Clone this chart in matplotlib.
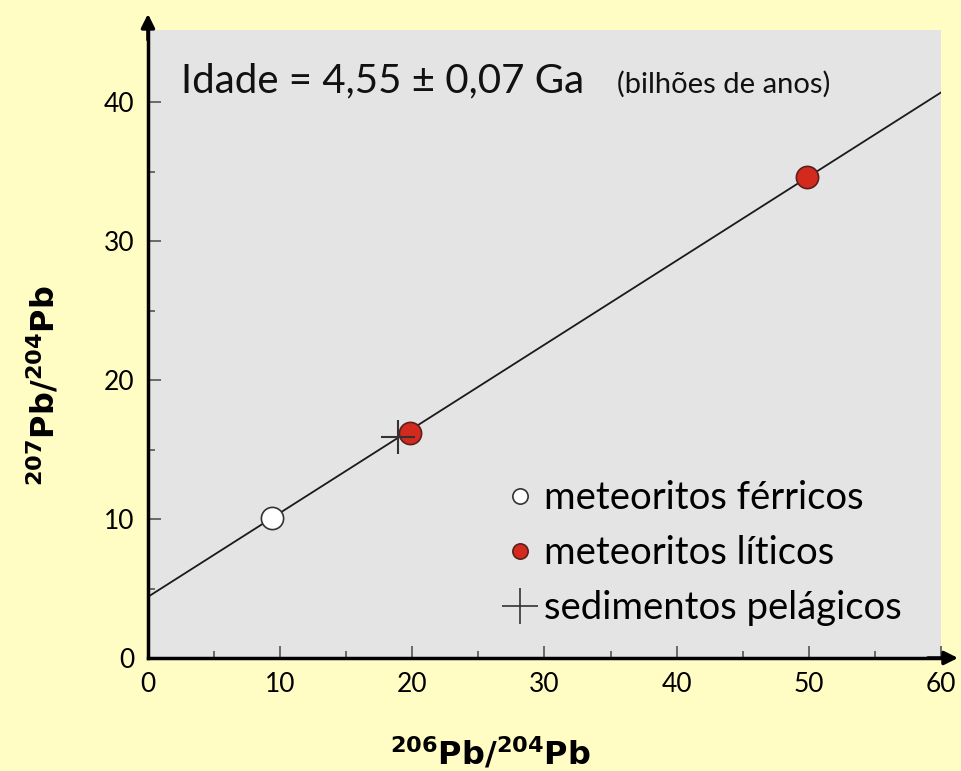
import numpy as np
import matplotlib.pyplot as plt

# isochron line and data
line_x = [0, 60]
line_y = [4.4, 40.7]
ferricos_x = [9.4]
ferricos_y = [10.1]
liticos_x = [19.8, 49.9]
liticos_y = [16.2, 34.6]
sedim_x = [18.9]
sedim_y = [15.9]
xticks = [0, 10, 20, 30, 40, 50, 60]
yticks = [0, 10, 20, 30, 40]

plt.rcParams['font.family'] = ['Lato', 'DejaVu Sans']

fig = plt.figure(figsize=(9.62, 7.71), dpi=100, facecolor='#fffcc4')
ax = fig.add_axes([0.1538, 0.1466, 0.8243, 0.8145])
ax.set_facecolor('#e4e4e4')
ax.set_xlim(0, 60)
ax.set_ylim(0, 45.2)

ax.plot(line_x, line_y, color='#1a1a1a', lw=1.3, zorder=2)
ax.plot(ferricos_x, ferricos_y, 'o', ms=16, mfc='white', mec='#333333', mew=1.2, zorder=3)
ax.plot(liticos_x, liticos_y, 'o', ms=16, mfc='#d42a1e', mec='#5a2020', mew=1.2, zorder=3)
ax.plot(sedim_x, sedim_y, '+', ms=24, color='#333333', mew=1.5, zorder=4)

# legend
h1, = ax.plot([], [], 'o', ms=11, mfc='white', mec='#333333', mew=1.2)
h2, = ax.plot([], [], 'o', ms=11, mfc='#d42a1e', mec='#5a2020', mew=1.2)
h3, = ax.plot([], [], '+', ms=26, color='#333333', mew=1.2)
ax.legend([h1, h2, h3], ['meteoritos férricos', 'meteoritos líticos', 'sedimentos pelágicos'],
          loc='lower left', bbox_to_anchor=(0.435, 0.026), frameon=False, fontsize=27.5,
          handlelength=0.6, handletextpad=0.35, labelspacing=0.5, borderaxespad=0.0)

ax.text(0.0416, 0.90, 'Idade = 4,55 ± 0,07 Ga', transform=ax.transAxes,
        fontsize=29, va='baseline', color='#111111')
ax.text(0.591, 0.90, '(bilhões de anos)', transform=ax.transAxes,
        fontsize=21, va='baseline', color='#111111')

for s in ['top', 'right']:
    ax.spines[s].set_visible(False)
for s in ['left', 'bottom']:
    ax.spines[s].set_linewidth(2.5)
    ax.spines[s].set_color('black')

ax.set_xticks(xticks)
ax.set_yticks(yticks)
ax.set_xticks(np.arange(5, 60, 10), minor=True)
ax.set_yticks(np.arange(5, 45, 10), minor=True)
ax.tick_params(which='major', direction='in', length=9, width=1.2, color='#555555',
               labelsize=19, pad=10)
ax.tick_params(which='minor', direction='in', length=5, width=1.2, color='#555555')

# axis arrows
ax.annotate('', xy=(0, 1.03), xytext=(0, 0.98), xycoords='axes fraction',
            arrowprops=dict(arrowstyle='-|>', color='black', lw=2.5, mutation_scale=20),
            annotation_clip=False)
ax.annotate('', xy=(1.025, 0), xytext=(0.98, 0), xycoords='axes fraction',
            arrowprops=dict(arrowstyle='-|>', color='black', lw=2.5, mutation_scale=20),
            annotation_clip=False)

fig.text(0.51, 0.008, r'$^{\mathbf{206}}$Pb/$^{\mathbf{204}}$Pb', ha='center', va='baseline',
         fontsize=23, fontweight='bold', family='DejaVu Sans')
fig.text(0.045, 0.50, r'$^{\mathbf{207}}$Pb/$^{\mathbf{204}}$Pb', ha='center', va='center',
         rotation=90, fontsize=23, fontweight='bold', family='DejaVu Sans')

fig.savefig('out.png', dpi=100, facecolor=fig.get_facecolor())
